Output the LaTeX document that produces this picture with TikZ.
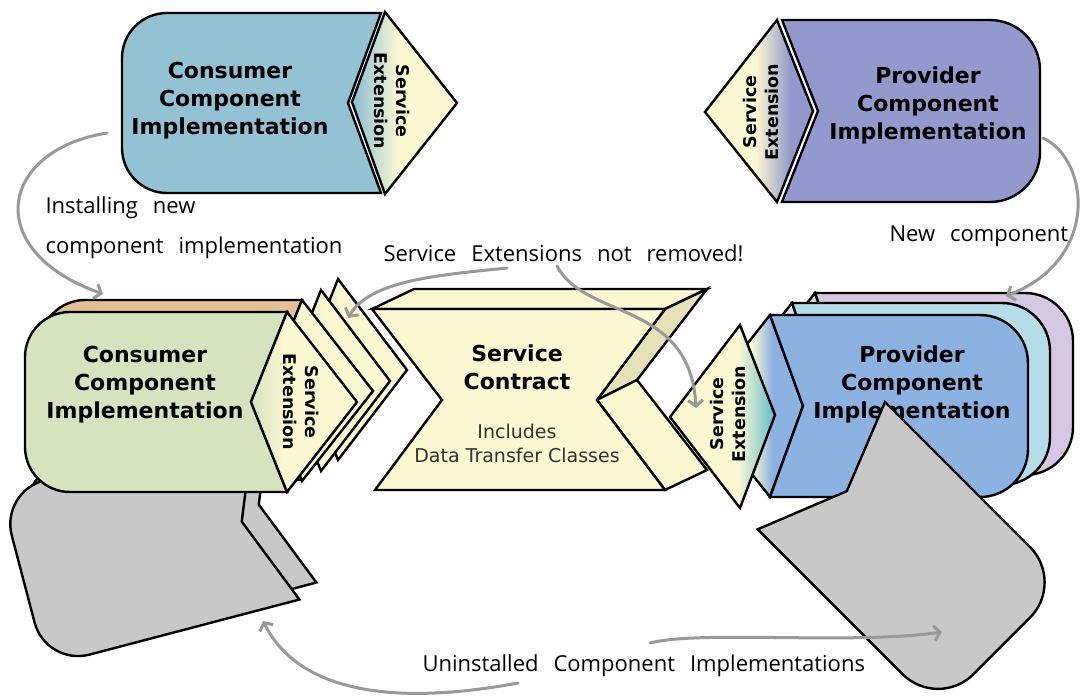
\documentclass[tikz,border=0pt]{standalone}
\usepackage{fontspec}
\setmainfont{DejaVu Sans}
\newfontfamily\handfont{Open Sans}
\usetikzlibrary{arrows.meta}
\definecolor{ycol}{HTML}{FCF8D2}
\definecolor{cblue}{HTML}{93C2D4}
\definecolor{pcol}{HTML}{9399CC}
\definecolor{gcoltwo}{HTML}{D7E3BF}
\definecolor{ocol}{HTML}{E4C096}
\definecolor{dblue}{HTML}{9CC6E6}
\definecolor{dface}{HTML}{E5E2B9}
\definecolor{bcol}{HTML}{8CB2E2}
\definecolor{ccol}{HTML}{B5DDE7}
\definecolor{lcol}{HTML}{D6C7E3}
\definecolor{tealcol}{HTML}{6EC0D0}
\definecolor{gcol}{HTML}{C8C8C8}
\definecolor{arrgray}{HTML}{999999}
\definecolor{tcol}{HTML}{333333}
\newlength{\handsp}
\setlength{\handsp}{15pt}
\newcommand{\handtext}{\handfont\fontsize{22}{24}\selectfont\spaceskip\handsp\relax}
% consumer-type shape: rounded left, notch right  (W,H,d,r)
\newcommand{\conshape}[4]{(#4,0) -- (#1,0) -- ({#1-#3},{#2/2}) -- (#1,#2) -- (#4,#2) .. controls ({0.448*#4},#2) and (0,{#2-0.448*#4}) .. (0,{#2-#4}) -- (0,#4) .. controls (0,{0.448*#4}) and ({0.448*#4},0) .. (#4,0) -- cycle}
% provider-type shape: chevron left, rounded right (W,H,d,r)
\newcommand{\provshape}[4]{(0,0) -- ({#1-#4},0) .. controls ({#1-0.448*#4},0) and (#1,{0.448*#4}) .. (#1,#4) -- (#1,{#2-#4}) .. controls (#1,{#2-0.448*#4}) and ({#1-0.448*#4},#2) .. ({#1-#4},#2) -- (0,#2) -- (#3,{#2/2}) -- cycle}
% shaded diamond: left, top, right, bottom, colour1, colour2, x1, x2
\newcommand{\xdiamond}[8]{%
  \begin{scope}
    \clip #1 -- #2 -- #3 -- #4 -- cycle;
    \fill[#5] (0,0) rectangle (#7,700);
    \shade[left color=#5, right color=#6] (#7,0) rectangle (#8,700);
    \fill[#6] (#8,0) rectangle (1100,700);
  \end{scope}
  \draw[outl] #1 -- #2 -- #3 -- #4 -- cycle;}
\begin{document}
\begin{tikzpicture}[x=1pt,y=-1pt,
  outl/.style={draw=black,line width=2.4pt,line join=miter},
  lab/.style={font=\bfseries\fontsize{22}{28}\selectfont,align=center},
  ext/.style={font=\bfseries\fontsize{17.5}{22}\selectfont,align=center},
  hand/.style={font=\handtext,anchor=west},
  arr/.style={draw=arrgray,line width=3pt,line cap=round,-{Straight Barb[length=6pt,width=15pt]}}]
\useasboundingbox (0,0) rectangle (1082,697);
\fill[white] (0,0) rectangle (1082,697);

% ---------- top consumer ----------
\begin{scope}[shift={(122,13)}]
  \draw[outl,fill=cblue] \conshape{259}{180}{33}{45};
\end{scope}
\xdiamond{(352,102)}{(385,12)}{(457,103)}{(385,194)}{cblue}{ycol}{356}{398}
\node[ext,rotate=-90] (se1) at (392,101) {Service\\Extension};
\node[lab] (cc1) at (230,101) {Consumer\\Component\\Implementation};

% ---------- top provider ----------
\xdiamond{(705,112)}{(777,20)}{(813,111)}{(777,202)}{ycol}{pcol}{756}{790}
\begin{scope}[shift={(782,20)}]
  \draw[outl,fill=pcol] \provshape{258}{182}{36}{50};
\end{scope}
\node[ext,rotate=90] (se2) at (761,112) {Service\\Extension};
\node[lab] (pc1) at (928,105) {Provider\\Component\\Implementation};

% ---------- middle left ----------
\begin{scope}[shift={(63,649)},rotate=14.7,shift={(0,-180)}]
  \draw[outl,fill=gcol] \conshape{262}{180}{36}{45};
\end{scope}
\begin{scope}[shift={(46,666)},rotate=14.7,shift={(0,-180)}]
  \draw[outl,fill=gcol] \conshape{262}{180}{36}{45};
\end{scope}
\xdiamond{(302,370)}{(338,279)}{(407,370)}{(338,460)}{dblue}{ycol}{305}{338}
\xdiamond{(285,381)}{(321,290)}{(390,381)}{(321,471)}{dblue}{ycol}{288}{321}
\begin{scope}[shift={(40,300)}]
  \draw[outl,fill=ocol] \conshape{262}{180}{36}{45};
\end{scope}
\xdiamond{(266,390)}{(302,300)}{(373,391)}{(302,481)}{ocol}{ycol}{268}{300}
\begin{scope}[shift={(25,312)}]
  \draw[outl,fill=gcoltwo] \conshape{262}{180}{36}{45};
\end{scope}
\xdiamond{(251,402)}{(287,312)}{(357,402)}{(287,492)}{gcoltwo}{ycol}{253}{285}
\node[ext,rotate=-90] (se3) at (301,402) {Service\\Extension};
\node[lab] (cc2) at (145,385) {Consumer\\Component\\Implementation};

% ---------- service contract ----------
\draw[outl,fill=ycol] (372,309) -- (414,289) -- (707,289) -- (665,309) -- cycle;
\draw[outl,fill=dface] (665,309) -- (707,289) -- (637,380) -- (597,400) -- cycle;
\draw[outl,fill=ycol] (597,400) -- (637,380) -- (707,470) -- (665,490) -- cycle;
\draw[outl,fill=ycol] (372,309) -- (665,309) -- (597,400) -- (665,490) -- (375,490) -- (442,400) -- cycle;
\node[lab] (sc) at (517,367) {Service\\Contract};
\node[font=\fontsize{19}{24}\selectfont,text=tcol,align=center] (dt) at (517,443) {Includes\\Data Transfer Classes};

% ---------- middle right ----------
\xdiamond{(743,384)}{(815,293)}{(848,384)}{(815,475)}{ycol}{lcol}{800}{822}
\begin{scope}[shift={(815,293)}]
  \draw[outl,fill=lcol] \provshape{258}{182}{33}{48};
\end{scope}
\xdiamond{(720,394)}{(792,303)}{(825,394)}{(792,485)}{ycol}{ccol}{777}{799}
\begin{scope}[shift={(792,303)}]
  \draw[outl,fill=ccol] \provshape{258}{182}{33}{48};
\end{scope}
\xdiamond{(698,406)}{(770,315)}{(803,406)}{(770,497)}{ycol}{bcol}{752}{772}
\begin{scope}[shift={(770,315)}]
  \draw[outl,fill=bcol] \provshape{258}{182}{33}{48};
\end{scope}
\node[lab] (pc2) at (912,384) {Provider\\Component\\Implementation};
\xdiamond{(670,417)}{(740,325)}{(775,415)}{(740,508)}{ycol}{tealcol}{738}{772}
\node[ext,rotate=90] (se4) at (728,414) {Service\\Extension};

% gray uninstalled provider
\begin{scope}[shift={(885,402)},rotate=-45]
  \draw[outl,fill=gcol] \provshape{255}{180}{36}{50};
\end{scope}

% ---------- annotations ----------
\node[hand] (t1) at (42,208) {Installing new};
\node[hand] (t2) at (42,248) {component implementation};
\node[hand] (t3) at (380,253) {Service Extensions not removed!};
\node[hand] (t4) at (886,236) {New component};
\node[hand] (t5) at (419,666) {Uninstalled Component Implementations};

\coordinate (a1s) at (107,133);
\coordinate (a1e) at (103,294);
\coordinate (a2s) at (1043,138);
\coordinate (a2e) at (1006,296);
\coordinate (a3s) at (507,268);
\coordinate (a3e) at (348,318);
\coordinate (a4s) at (557,266);
\coordinate (a4e) at (696,408);
\coordinate (a5s) at (518,683);
\coordinate (a5e) at (263,621);
\coordinate (a6s) at (650,643);
\coordinate (a6e) at (942,632);
\draw[arr] (a1s) .. controls (0,150) and (-20,250) .. (a1e);
\draw[arr] (a2s) .. controls (1090,160) and (1100,260) .. (a2e);
\draw[arr] (a3s) .. controls (440,275) and (370,280) .. (a3e);
\draw[arr] (a4s) .. controls (585,320) and (690,300) .. (a4e);
\draw[arr] (a5s) .. controls (400,705) and (300,695) .. (a5e);
\draw[arr] (a6s) .. controls (700,630) and (850,645) .. (a6e);
\end{tikzpicture}
\end{document}
